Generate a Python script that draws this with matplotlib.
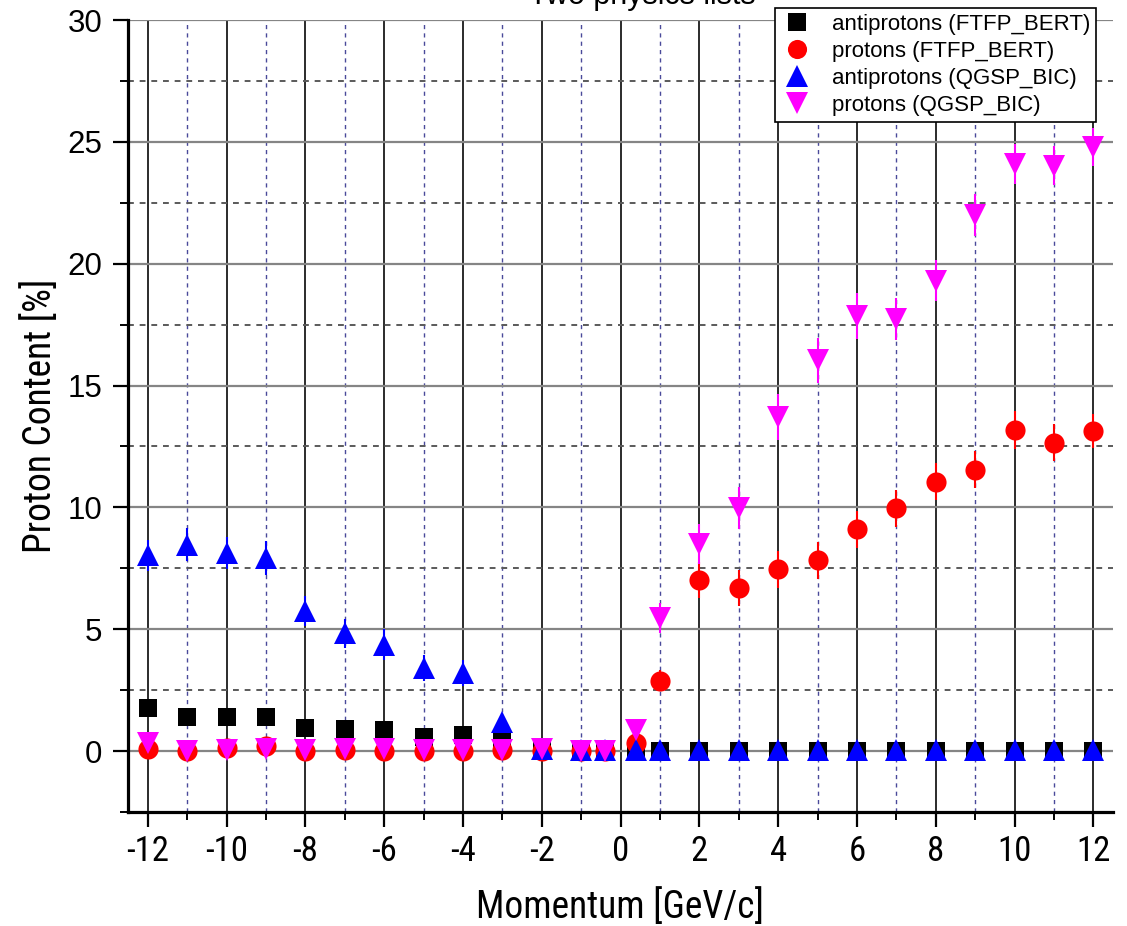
import matplotlib
matplotlib.use("Agg")
import matplotlib.pyplot as plt
from matplotlib.lines import Line2D
from matplotlib.ticker import MultipleLocator
from matplotlib import font_manager

# ---------------- data ----------------
momentum = [-12, -11, -10, -9, -8, -7, -6, -5, -4, -3, -2, -1, -0.4, 0.4,
            1, 2, 3, 4, 5, 6, 7, 8, 9, 10, 11, 12]

anti_ftfp = [1.75, 1.41, 1.38, 1.38, 0.96, 0.92, 0.87, 0.57, 0.64, 0.36, 0.18, 0.02, 0.0, 0.0,
             0.0, 0.0, 0.0, 0.0, 0.0, 0.0, 0.0, 0.0, 0.0, 0.0, 0.0, 0.0]
anti_ftfp_err = [0.12, 0.12, 0.12, 0.12, 0.1, 0.1, 0.1, 0.08, 0.08, 0.07, 0.05, 0.02, 0.0, 0.0,
                 0.0, 0.0, 0.0, 0.0, 0.0, 0.0, 0.0, 0.0, 0.0, 0.0, 0.0, 0.0]

prot_ftfp = [0.1, 0.0, 0.12, 0.2, 0.02, 0.05, 0.02, 0.02, 0.02, 0.03, 0.0, 0.0, 0.0, 0.32,
             2.88, 7.02, 6.7, 7.46, 7.84, 9.1, 9.96, 11.06, 11.55, 13.17, 12.65, 13.12]
prot_ftfp_err = [0.1, 0.05, 0.15, 0.2, 0.05, 0.1, 0.05, 0.05, 0.05, 0.1, 0.05, 0.05, 0.05, 0.3,
                 0.43, 0.72, 0.73, 0.76, 0.76, 0.77, 0.75, 0.76, 0.75, 0.77, 0.76, 0.7]

anti_qgsp = [8.03, 8.46, 8.12, 7.92, 5.76, 4.83, 4.36, 3.4, 3.2, 1.2, 0.08, 0.05, 0.05, 0.05,
             0.05, 0.05, 0.05, 0.05, 0.05, 0.05, 0.05, 0.05, 0.05, 0.05, 0.05, 0.05]
anti_qgsp_err = [0.63, 0.68, 0.66, 0.7, 0.62, 0.58, 0.63, 0.53, 0.53, 0.35, 0.1, 0.05, 0.05, 0.05,
                 0.02, 0.02, 0.02, 0.02, 0.02, 0.02, 0.02, 0.02, 0.02, 0.02, 0.02, 0.02]

prot_qgsp = [0.35, 0.0, 0.05, 0.1, 0.05, 0.1, 0.1, 0.05, 0.05, 0.05, 0.08, 0.0, 0.0, 0.85,
             5.45, 8.5, 9.98, 13.7, 16.04, 17.86, 17.73, 19.3, 21.99, 24.09, 24.02, 24.78]
prot_qgsp_err = [0.3, 0.1, 0.1, 0.15, 0.1, 0.1, 0.1, 0.1, 0.1, 0.1, 0.1, 0.05, 0.05, 0.35,
                 0.62, 0.82, 0.87, 0.95, 0.92, 0.94, 0.85, 0.84, 0.86, 0.83, 0.81, 0.77]

labels = ["antiprotons (FTFP_BERT)", "protons (FTFP_BERT)",
          "antiprotons (QGSP_BIC)", "protons (QGSP_BIC)"]
x_ticks = [-12, -10, -8, -6, -4, -2, 0, 2, 4, 6, 8, 10, 12]
y_ticks = [0, 5, 10, 15, 20, 25, 30]

# ---------------- fonts ----------------
names = {f.name for f in font_manager.fontManager.ttflist}
BASE = "Liberation Sans" if "Liberation Sans" in names else "DejaVu Sans"
NARROW = BASE
for cand in ["Liberation Sans Narrow", "Arial Narrow", "Roboto Condensed", "Archivo Narrow"]:
    if cand in names:
        NARROW = cand
        break
plt.rcParams["font.family"] = [BASE, "DejaVu Sans"]
plt.rcParams["axes.unicode_minus"] = False

W, H = 1127, 926
fig = plt.figure(figsize=(W / 100, H / 100), dpi=100)
L, R, T, B = 128, 1113, 20, 812
ax = fig.add_axes([L / W, 1 - B / H, (R - L) / W, (B - T) / H])

ax.set_xlim(-12.5, 12.5)
ax.set_ylim(-2.5, 30)

ax.xaxis.set_major_locator(MultipleLocator(2))
ax.xaxis.set_minor_locator(MultipleLocator(1))
ax.yaxis.set_major_locator(MultipleLocator(5))
ax.yaxis.set_minor_locator(MultipleLocator(2.5))
ax.set_axisbelow(True)
ax.grid(which="major", axis="x", color="#1a1a1a", lw=1.3, ls="-")
ax.grid(which="minor", axis="x", color="#4a4a9a", lw=1.0, ls=(0, (3, 3)))
ax.grid(which="major", axis="y", color="#858585", lw=1.6, ls="-")
ax.grid(which="minor", axis="y", color="#5a5a5a", lw=1.4, ls=(0, (3, 3)))

series = [
    (anti_ftfp, anti_ftfp_err, "s", "#000000", 13),
    (prot_ftfp, prot_ftfp_err, "o", "#ff0000", 14.5),
    (anti_qgsp, anti_qgsp_err, "^", "#0000ff", 16.5),
    (prot_qgsp, prot_qgsp_err, "v", "#ff00ff", 16.5),
]
handles = []
for i, (vals, errs, mk, col, ms) in enumerate(series):
    ax.errorbar(momentum, vals, yerr=errs, fmt=mk, color=col, ms=ms, mec=col, mew=0,
                ecolor=col, elinewidth=1.5, capsize=6.5, capthick=1.5, zorder=3 + i)
    handles.append(Line2D([], [], ls="none", marker=mk, color=col, ms=ms * 0.95, mew=0))

ax.set_xticks(x_ticks)
ax.set_yticks(y_ticks)
for s in ["top", "right"]:
    ax.spines[s].set_visible(False)
for s in ["left", "bottom"]:
    ax.spines[s].set_linewidth(2.3)
ax.tick_params(which="major", direction="out", length=10.5, width=1.6)
ax.tick_params(which="minor", direction="out", length=5.5, width=1.4)
ax.tick_params(axis="y", labelsize=22.5, pad=8)
ax.tick_params(axis="x", labelsize=25, pad=6)
for lab in ax.get_xticklabels():
    lab.set_fontfamily(NARROW)

ax.set_xlabel("Momentum [GeV/c]", fontsize=27, family=NARROW)
ax.xaxis.set_label_coords(0.5, -0.134)
ax.xaxis.label.set_va("baseline")
ax.set_ylabel("Proton Content [%]", fontsize=27, family=NARROW)
ax.yaxis.set_label_coords(-0.07, 0.5)

fig.text(642 / W, 1 - 4 / H, "Two physics lists", fontsize=22, ha="center", va="baseline")

leg = fig.legend(handles, labels, loc="upper right", bbox_to_anchor=(1096 / W, 1 - 8 / H),
                 borderaxespad=0, fontsize=16, frameon=True, fancybox=False,
                 edgecolor="black", framealpha=1, labelspacing=0.28, handletextpad=0.9,
                 borderpad=0.25, handlelength=1.4)
leg.get_frame().set_linewidth(1.2)

fig.savefig("out.png", dpi=100)
